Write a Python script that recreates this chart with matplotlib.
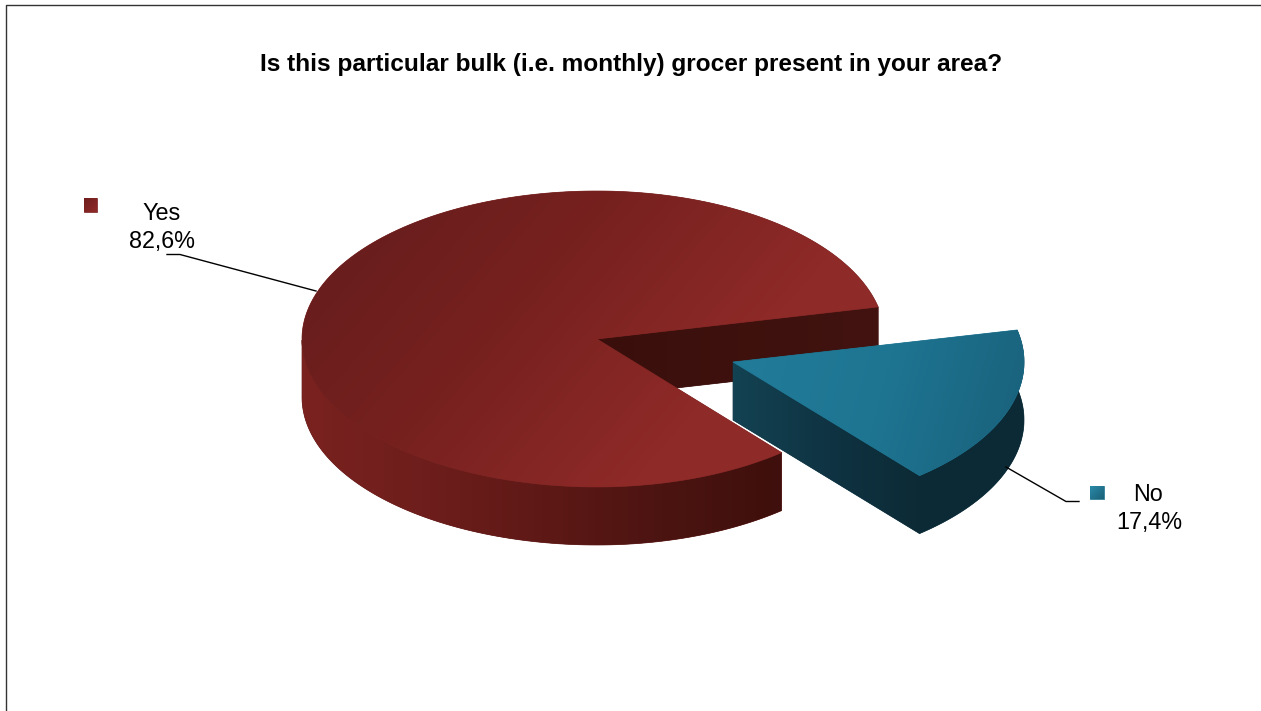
import numpy as np
import matplotlib
matplotlib.use("Agg")
import matplotlib.pyplot as plt
from matplotlib.colors import LinearSegmentedColormap
from matplotlib.patches import Polygon

plt.rcParams["font.family"] = ["Liberation Sans", "DejaVu Sans"]

title = "Is this particular bulk (i.e. monthly) grocer present in your area?"
labels = ["Yes", "No"]
values = [82.6, 17.4]

W, H = 1261, 711
DEPTH = 58
RY = 148
START = 12.5  # angle of the cut at the back right, degrees


def gradient(ax, verts, colors, direction, base):
    # solid polygon underneath, then a linear gradient clipped to it
    verts = np.asarray(verts)
    ax.add_patch(Polygon(verts, closed=True, fc=base, ec=base, lw=0.5, zorder=2))
    x0, y0 = verts.min(axis=0)
    x1, y1 = verts.max(axis=0)
    xx, yy = np.meshgrid(np.linspace(x0, x1, 300), np.linspace(y0, y1, 300))
    t = xx * direction[0] + yy * direction[1]
    t = (t - t.min()) / (t.max() - t.min())
    cmap = LinearSegmentedColormap.from_list("g", colors)
    im = ax.imshow(t, cmap=cmap, extent=(x0, x1, y1, y0), aspect="auto",
                   interpolation="nearest", zorder=2)
    im.set_clip_path(Polygon(verts, closed=True, transform=ax.transData))


def rim(cx, cy, rx_left, rx_right, a0, a1, n=240):
    th = np.radians(np.linspace(a0, a1, n))
    rx = np.where(np.cos(th) > 0, rx_right, rx_left)
    return np.column_stack([cx + rx * np.cos(th), cy - RY * np.sin(th)])


fig = plt.figure(figsize=(W / 100, H / 100), dpi=100)
ax = fig.add_axes([0, 0, 1, 1])

# slice angles come from the values
no_span = values[1] / sum(values) * 360
yes_a0, yes_a1 = START, START + 360 - no_span
no_a0, no_a1 = START - no_span, START

# Yes slice
yes_apex = np.array([597, 339])
yes_rim = rim(yes_apex[0], yes_apex[1], 295, 288, yes_a0, yes_a1)
inner_corner = yes_rim[0]
gradient(ax, [yes_apex, inner_corner, inner_corner + [0, DEPTH], yes_apex + [0, DEPTH]],
         ["#3a0f0b", "#421310"], (1, 0), "#3e110d")
front = yes_rim[yes_rim[:, 1] > yes_apex[1]]
wall = np.vstack([front, (front + [0, DEPTH])[::-1]])
gradient(ax, wall, ["#7a2220", "#6e1e1c", "#5e1916", "#4c1411", "#3e0f0c"], (1, 0), "#5e1916")
top_stops = [(0, "#661c1b"), (0.15, "#6a1e1d"), (0.38, "#77211f"), (0.7, "#8e2a28"), (1, "#902a28")]
gradient(ax, np.vstack([yes_apex, yes_rim]), top_stops, (0.75, 0.65), "#7a2321")

# No slice
no_apex = np.array([733, 362])
no_rim = rim(no_apex[0], no_apex[1], 291, 291, no_a0, no_a1)
wall = np.vstack([no_apex, no_rim, (no_rim + [0, DEPTH])[::-1], no_apex + [0, DEPTH]])
gradient(ax, wall, ["#134252", "#0f3342", "#0c2a35", "#0c2a35"], (1, 0), "#0f3342")
gradient(ax, np.vstack([no_apex, no_rim]), ["#217c9a", "#1e7592", "#19607a"], (0.9, 0.25), "#1e7592")

# leader lines
ax.plot([167, 180, 316], [254.5, 254.5, 291], color="black", lw=1.0, zorder=3)
ax.plot([1006, 1066, 1079], [467, 501.5, 501.5], color="black", lw=1.0, zorder=3)

# legend keys
gradient(ax, [(84, 198), (97, 198), (97, 212), (84, 212)], ["#6e1f1e", "#902a28"], (1, 1), "#7e2523")
gradient(ax, [(1090, 486), (1104, 486), (1104, 499), (1090, 499)], ["#2a8aa8", "#1a6078"], (1, 1), "#227590")


# data labels
def pct(v):
    return f"{v:.1f}".replace(".", ",") + "%"


fs = 16.8
ax.text(162, 220, labels[0], ha="center", va="baseline", fontsize=fs, color="black")
ax.text(161.5, 248, pct(values[0]), ha="center", va="baseline", fontsize=fs, color="black")
ax.text(1148, 501, labels[1], ha="center", va="baseline", fontsize=fs, color="black")
ax.text(1149, 529, pct(values[1]), ha="center", va="baseline", fontsize=fs, color="black")

ax.text(631, 70.5, title, ha="center", va="baseline", fontsize=17.6, fontweight="bold", color="black")

# chart frame, only top and left are in the picture
ax.plot([6, 6, W], [H, 4.5, 4.5], color="#333333", lw=1.0, zorder=3)

ax.set_xlim(0, W)
ax.set_ylim(H, 0)
ax.axis("off")
fig.savefig("out.png", dpi=100)
plt.close()
